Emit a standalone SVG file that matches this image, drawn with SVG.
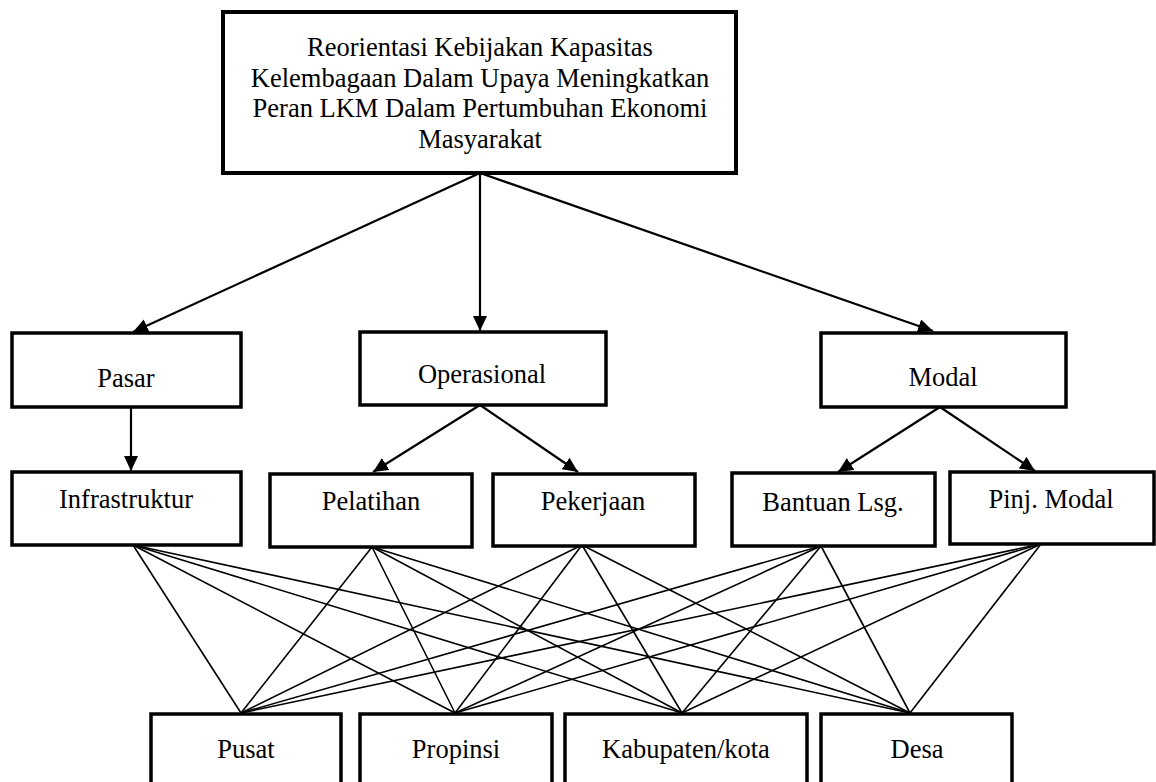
<svg xmlns="http://www.w3.org/2000/svg" width="1156" height="782" viewBox="0 0 1156 782">
<style>
.box{fill:#fff;stroke:#000;stroke-width:3.5}
.t{font-family:"Liberation Serif","Times New Roman",serif;font-size:26.5px;fill:#000;text-anchor:middle}
.arr{stroke:#000;stroke-width:2.2;fill:none;marker-end:url(#ah)}
.mesh line{stroke:#000;stroke-width:1.6}
</style>
<defs>
<marker id="ah" markerUnits="userSpaceOnUse" markerWidth="16" markerHeight="14" refX="15" refY="7" orient="auto">
<path d="M0,0 L15,7 L0,14 z" fill="#000"/>
</marker>
</defs>
<g id="connectors">
<line class="arr" x1="480" y1="173" x2="133" y2="332"/>
<line class="arr" x1="480" y1="173" x2="480" y2="331"/>
<line class="arr" x1="480" y1="173" x2="933" y2="331"/>
<line class="arr" x1="131" y1="407" x2="131" y2="471"/>
<line class="arr" x1="480" y1="405" x2="373" y2="472"/>
<line class="arr" x1="480" y1="405" x2="578" y2="472"/>
<line class="arr" x1="940" y1="407" x2="838" y2="472"/>
<line class="arr" x1="940" y1="407" x2="1035" y2="471"/>
<g class="mesh">
<line x1="133" y1="545" x2="241" y2="713"/>
<line x1="133" y1="545" x2="455" y2="713"/>
<line x1="133" y1="545" x2="682" y2="713"/>
<line x1="133" y1="545" x2="910" y2="713"/>
<line x1="372" y1="547" x2="241" y2="713"/>
<line x1="372" y1="547" x2="455" y2="713"/>
<line x1="372" y1="547" x2="682" y2="713"/>
<line x1="372" y1="547" x2="910" y2="713"/>
<line x1="582" y1="545" x2="241" y2="713"/>
<line x1="582" y1="545" x2="455" y2="713"/>
<line x1="582" y1="545" x2="682" y2="713"/>
<line x1="582" y1="545" x2="910" y2="713"/>
<line x1="821" y1="546" x2="241" y2="713"/>
<line x1="821" y1="546" x2="455" y2="713"/>
<line x1="821" y1="546" x2="682" y2="713"/>
<line x1="821" y1="546" x2="910" y2="713"/>
<line x1="1041" y1="544" x2="241" y2="713"/>
<line x1="1041" y1="544" x2="455" y2="713"/>
<line x1="1041" y1="544" x2="682" y2="713"/>
<line x1="1041" y1="544" x2="910" y2="713"/>
</g>
</g>
<g id="top">
<rect class="box" x="223" y="12" width="513" height="161" style="stroke-width:4"/>
<text class="t" x="480" y="56">Reorientasi Kebijakan Kapasitas</text>
<text class="t" x="480" y="87">Kelembagaan Dalam Upaya Meningkatkan</text>
<text class="t" x="480" y="117">Peran LKM Dalam Pertumbuhan Ekonomi</text>
<text class="t" x="480" y="148">Masyarakat</text>
</g>
<g id="pasar">
<rect class="box" x="12" y="333" width="229" height="74"/>
<text class="t" x="126" y="387">Pasar</text>
</g>
<g id="operasional">
<rect class="box" x="360" y="332" width="246" height="73"/>
<text class="t" x="482" y="383">Operasional</text>
</g>
<g id="modal">
<rect class="box" x="821" y="333" width="245" height="74"/>
<text class="t" x="943" y="386">Modal</text>
</g>
<g id="infrastruktur">
<rect class="box" x="12" y="472" width="229" height="73"/>
<text class="t" x="126" y="508">Infrastruktur</text>
</g>
<g id="pelatihan">
<rect class="box" x="270" y="474" width="202" height="73"/>
<text class="t" x="371" y="510">Pelatihan</text>
</g>
<g id="pekerjaan">
<rect class="box" x="493" y="474" width="202" height="72"/>
<text class="t" x="593" y="510">Pekerjaan</text>
</g>
<g id="bantuan">
<rect class="box" x="732" y="473" width="203" height="73"/>
<text class="t" x="833" y="511">Bantuan Lsg.</text>
</g>
<g id="pinjmodal">
<rect class="box" x="950" y="472" width="204" height="72"/>
<text class="t" x="1051" y="508">Pinj. Modal</text>
</g>
<g id="pusat">
<rect class="box" x="151" y="714" width="190" height="90"/>
<text class="t" x="246" y="758">Pusat</text>
</g>
<g id="propinsi">
<rect class="box" x="360" y="714" width="192" height="90"/>
<text class="t" x="456" y="758">Propinsi</text>
</g>
<g id="kabupaten">
<rect class="box" x="565" y="714" width="242" height="90"/>
<text class="t" x="686" y="758">Kabupaten/kota</text>
</g>
<g id="desa">
<rect class="box" x="821" y="714" width="191" height="90"/>
<text class="t" x="917" y="758">Desa</text>
</g>
</svg>
